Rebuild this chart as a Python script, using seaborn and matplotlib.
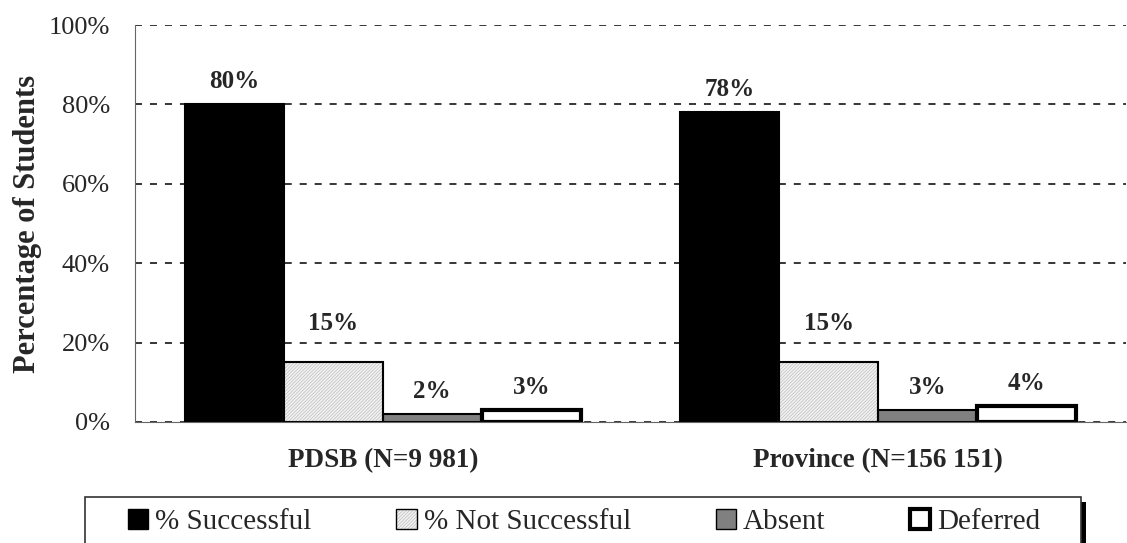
import pandas as pd
import seaborn as sns
import matplotlib.pyplot as plt
from matplotlib.patches import Patch, Rectangle
from matplotlib.legend_handler import HandlerTuple

groups = ['PDSB (N=9 981)', 'Province (N=156 151)']
outcomes = ['% Successful', '% Not Successful', 'Absent', 'Deferred']
pdsb = [80, 15, 2, 3]
province = [78, 15, 3, 4]

faces = ['black', '#f2f2f2', '#808080', 'white']
hatches = [None, '//////////', None, None]
edge_w = [1.5, 1.5, 1.5, 3.0]
label_pad = [8, 19.5, 8, 8]
hatch_col = '#bdbdbd'

df = pd.DataFrame({
    'group': [groups[0]] * 4 + [groups[1]] * 4,
    'outcome': outcomes * 2,
    'value': pdsb + province,
})

sns.set_style('white')
plt.rcParams['font.family'] = ['Liberation Serif', 'DejaVu Serif']
plt.rcParams['hatch.linewidth'] = 0.5

W, H = 1127, 543
fig = plt.figure(figsize=(W / 100, H / 100), dpi=100)
ax = fig.add_axes([135 / W, 1 - 422 / H, 991 / W, 397 / H])

sns.barplot(data=df, x='group', y='value', hue='outcome', order=groups,
            hue_order=outcomes, palette=faces, width=0.8, saturation=1,
            legend=False, ax=ax)

for i, container in enumerate(ax.containers):
    for bar in container:
        bar.set_facecolor(faces[i])
        bar.set_linewidth(edge_w[i])
        if hatches[i]:
            # hatch takes the edge colour, so draw the black outline on top
            bar.set_hatch(hatches[i])
            bar.set_edgecolor(hatch_col)
            ax.add_patch(Rectangle(bar.get_xy(), bar.get_width(), bar.get_height(),
                                   fill=False, edgecolor='black',
                                   linewidth=edge_w[i], zorder=bar.get_zorder() + 0.1))
        else:
            bar.set_edgecolor('black')
    ax.bar_label(container, labels=[f'{v:.0f}%' for v in container.datavalues],
                 padding=label_pad[i], fontsize=18, fontweight='bold')

ax.set_ylim(0, 100)
ax.set_yticks(range(0, 101, 20))
ax.set_yticklabels([f'{t}%' for t in range(0, 101, 20)], fontsize=19)
ax.set_xlim(-0.5, 1.5)
ax.set_xlabel('')
ax.set_ylabel('Percentage of Students', fontsize=22, fontweight='bold')
ax.yaxis.set_label_coords(-0.094, 0.5)
for lbl in ax.get_xticklabels():
    lbl.set_fontweight('bold')
    lbl.set_fontsize(19.5)
ax.tick_params(length=0)
ax.tick_params(axis='y', pad=18)
ax.tick_params(axis='x', pad=19)

ax.yaxis.grid(True, linestyle=(0, (4.6, 5.2)), color='black', linewidth=1.1)
ax.set_axisbelow(True)
for side in ['top', 'right']:
    ax.spines[side].set_visible(False)
ax.spines['left'].set_color('#666666')
ax.spines['bottom'].set_color('#666666')

# legend box with black shadow, running off the bottom edge
fig.patches.append(Rectangle((90 / W, 1 - 565 / H), 996 / W, 63 / H,
                             transform=fig.transFigure, facecolor='black',
                             edgecolor='none', zorder=1))
fig.patches.append(Rectangle((85 / W, 1 - 560 / H), 996 / W, 63 / H,
                             transform=fig.transFigure, facecolor='white',
                             edgecolor='#333333', linewidth=1.2, zorder=2))

handles = []
for i in range(4):
    lw = edge_w[i] if i == 3 else 1.0
    if hatches[i]:
        handles.append((Patch(facecolor=faces[i], edgecolor=hatch_col, hatch=hatches[i], linewidth=0),
                        Patch(fill=False, edgecolor='black', linewidth=lw)))
    else:
        handles.append(Patch(facecolor=faces[i], edgecolor='black', linewidth=lw))
leg = fig.legend(handles=handles, labels=outcomes, ncol=4, loc='center left',
                 bbox_to_anchor=(128 / W, 1 - 522 / H), fontsize=21,
                 frameon=False, handlelength=0.69, handleheight=0.69,
                 handletextpad=0.25, columnspacing=2.9, borderpad=0,
                 borderaxespad=0, handler_map={tuple: HandlerTuple(ndivide=1, pad=0)})
leg.set_zorder(3)

fig.savefig('out.png', dpi=100)
